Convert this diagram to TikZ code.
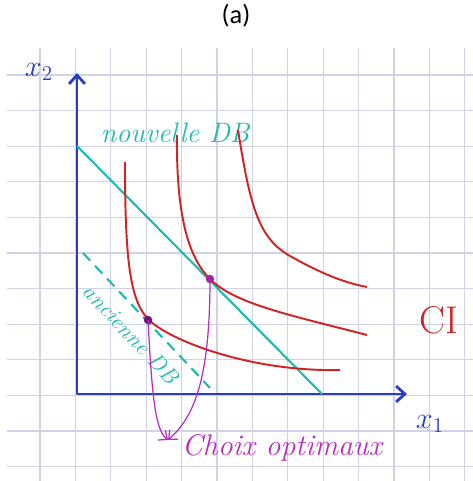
\documentclass[tikz,border=0pt]{standalone}
\usepackage{fontspec}
\newfontfamily\capfont{Carlito}
\usetikzlibrary{arrows.meta,calc}
\definecolor{gridGray}{RGB}{208,210,230}
\definecolor{axisBlue}{RGB}{40,60,200}
\definecolor{dbCyan}{RGB}{30,185,175}
\definecolor{ciRed}{RGB}{210,35,35}
\definecolor{optMagenta}{RGB}{185,45,190}
\definecolor{optPurple}{RGB}{110,20,120}

\begin{document}
\begin{tikzpicture}[x=0.02cm, y=-0.02cm,
    grd/.style={draw=gridGray, line width=0.6pt},
    ax/.style={axisBlue, line width=1.6pt, line join=round,
               {Straight Barb[length=5pt,width=9pt]}-{Straight Barb[length=5pt,width=9pt]}},
    db/.style={dbCyan, line width=1.2pt},
    ci/.style={ciRed, line width=1.1pt},
    opt/.style={optMagenta, line width=0.7pt, -{Straight Barb[length=4pt,width=7pt]}},
    hand/.style={font=\fontsize{16}{18}\selectfont\itshape}
  ]
  \useasboundingbox (0,0) rectangle (473,481);
  % title
  \node[font=\capfont\fontsize{15}{17}\selectfont] (title) at (236,16) {(a)};
  % grid paper
  \foreach \i in {0,...,12}
    \draw[grd] ({40+35.4*\i},48) -- ({40+35.4*\i},481);
  \foreach \j in {0,...,11}
    \draw[grd] (7,{75+35.6*\j}) -- (473,{75+35.6*\j});
  % axes
  \coordinate (O) at (77,394);
  \coordinate (ytop) at (77,73);
  \coordinate (xend) at (407,394);
  \draw[ax] (ytop) -- (O) -- (xend);
  \node[axisBlue, font=\fontsize{17}{19}\selectfont] (x2lab) at (39,72) {$x_2$};
  \node[axisBlue, font=\fontsize{17}{19}\selectfont] (x1lab) at (430,424) {$x_1$};
  % budget lines
  \coordinate (nA) at (77,146);
  \coordinate (nB) at (322,394);
  \draw[db] (nA) -- (nB);
  \coordinate (aA) at (83,253);
  \coordinate (aB) at (210,388);
  \draw[db, dash pattern=on 6pt off 4pt] (aA) -- (aB);
  \node[dbCyan, hand] (newlab) at (175,133) {nouvelle DB};
  \node[dbCyan, font=\fontsize{13}{15}\selectfont\itshape, rotate=-47] (oldlab) at (131,334) {ancienne DB};
  % indifference curves
  \draw[ci] (125,162) .. controls (125,260) and (130,300) .. (148,319)
                      .. controls (168,340) and (250,372) .. (340,370);
  \draw[ci] (177,135) .. controls (176,220) and (190,259) .. (210,279)
                      .. controls (235,304) and (290,315) .. (367,335);
  \draw[ci] (238,130) .. controls (250,205) and (258,238) .. (290,256)
                      .. controls (315,270) and (340,282) .. (367,287);
  \node[ciRed, font=\fontsize{22}{24}\selectfont] (cilab) at (439,320) {CI};
  % optimal choices
  \coordinate (opt1) at (148,320);
  \coordinate (opt2) at (210,279);
  \fill[optPurple] (opt1) circle (2.4pt);
  \fill[optMagenta!85!black] (opt2) circle (2.4pt);
  \coordinate (tip) at (168,440);
  \draw[opt] (opt1) .. controls (152,395) and (155,430) .. (tip);
  \draw[opt] (opt2) .. controls (210,390) and (190,420) .. (tip);
  \node[optMagenta, font=\fontsize{17}{19}\selectfont\itshape] (optlab) at (282,448) {Choix optimaux};
\end{tikzpicture}
\end{document}
